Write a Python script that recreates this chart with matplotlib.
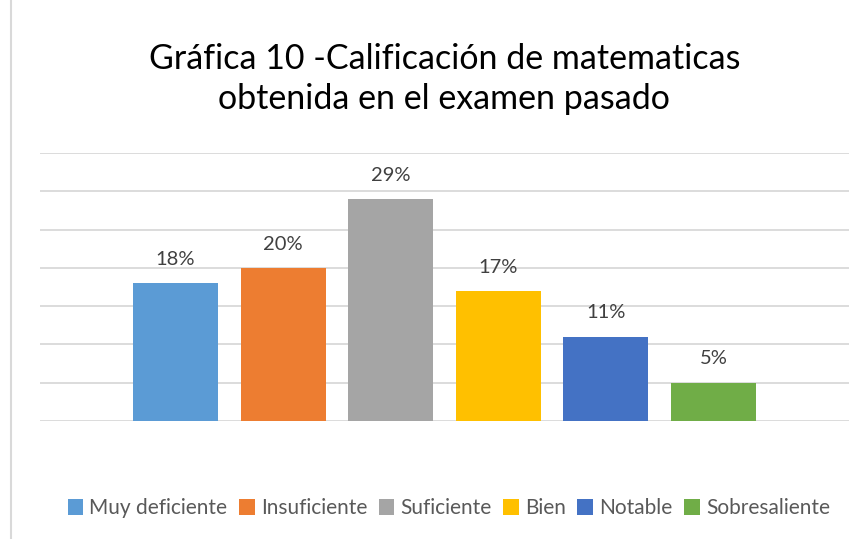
import matplotlib.pyplot as plt

categories = ['Muy deficiente', 'Insuficiente', 'Suficiente', 'Bien', 'Notable', 'Sobresaliente']
values = [0.18, 0.20, 0.29, 0.17, 0.11, 0.05]
labels = ['18%', '20%', '29%', '17%', '11%', '5%']
colors = ['#5B9BD5', '#ED7D31', '#A5A5A5', '#FFC000', '#4472C4', '#70AD47']

plt.rcParams['font.family'] = ['Lato', 'DejaVu Sans']

fig = plt.figure(figsize=(8.68, 5.39), dpi=100)
ax = fig.add_axes([40 / 868, 118 / 539, 809 / 868, 268 / 539])

for i, (c, v, lab, col) in enumerate(zip(categories, values, labels, colors)):
    ax.bar(i, v, width=0.79, color=col, label=c, zorder=3)
    ax.text(i, v + 0.02, lab, ha='center', va='bottom', fontsize=14.5, color='#404040')

ax.set_ylim(0, 0.35)
ax.set_xlim(-1.26, 6.26)
ax.set_yticks([0.05 * k for k in range(8)])
ax.yaxis.grid(True, color='#D9D9D9', linewidth=1.3, zorder=0)
ax.tick_params(left=False, bottom=False, labelleft=False, labelbottom=False)
for s in ax.spines.values():
    s.set_visible(False)

fig.text(0.512, 0.92, 'Gráfica 10 -Calificación de matematicas\nobtenida en el examen pasado',
         ha='center', va='top', fontsize=24.5, color='#000000', linespacing=1.3)

fig.legend(loc='center', bbox_to_anchor=(0.517, 0.057), ncol=6, frameon=False,
           fontsize=15, handlelength=0.75, handleheight=0.75, handletextpad=0.3,
           columnspacing=0.55, labelcolor='#595959')

# left border of the chart area
fig.add_artist(plt.Line2D([11 / 868, 11 / 868], [0, 1], color='#D9D9D9', linewidth=1.5))

fig.savefig('out.png', dpi=100, facecolor='white')
